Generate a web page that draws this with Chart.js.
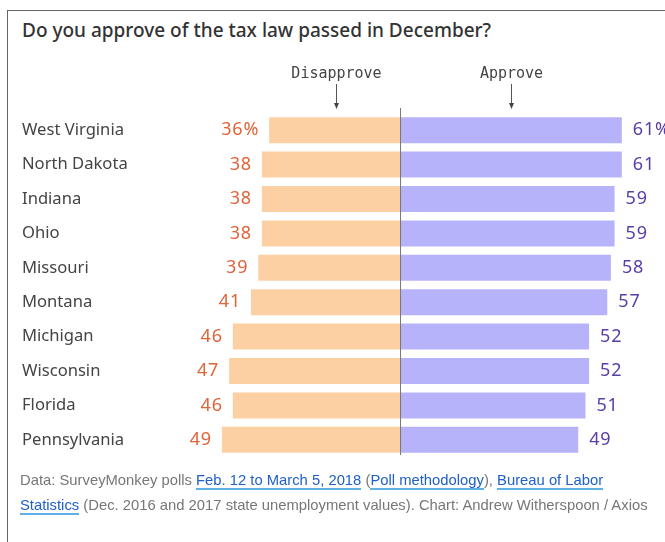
<!DOCTYPE html>
<html>
<head>
<meta charset="utf-8">
<script src="https://cdn.jsdelivr.net/npm/chart.js@4.4.1/dist/chart.umd.min.js"></script>
<style>
  html, body { margin: 0; padding: 0; background: #fff; }
  #wrap { position: relative; width: 665px; height: 542px; overflow: hidden; }
  #frame { position: absolute; left: 7px; top: 10px; width: 700px; height: 600px;
           border-left: 1px solid #666; border-top: 1px solid #666; }
  #title { position: absolute; left: 22px; top: 17px; font-family: "Noto Sans", sans-serif;
           font-size: 19px; font-weight: 500; color: #333; white-space: nowrap; }
  #note { position: absolute; left: 20px; top: 468px; font-family: "Liberation Sans", Arial, sans-serif;
          font-size: 14.8px; line-height: 25px; color: #777; white-space: nowrap; }
  #note a { color: #2060c8; text-decoration: none; border-bottom: 2px solid #5fb0e4; }
  canvas { position: absolute; left: 0; top: 0; }
</style>
</head>
<body>
<div id="wrap">
  <div id="frame"></div>
  <div id="title">Do you approve of the tax law passed in December?</div>
  <canvas id="myChart" width="665" height="542"></canvas>
  <div id="note">Data: SurveyMonkey polls <a>Feb. 12 to March 5, 2018</a> (<a>Poll methodology</a>), <a>Bureau of Labor</a><br><a>Statistics</a> (Dec. 2016 and 2017 state unemployment values). Chart: Andrew Witherspoon / Axios</div>
</div>
<script>
let states = ['West Virginia', 'North Dakota', 'Indiana', 'Ohio', 'Missouri',
              'Montana', 'Michigan', 'Wisconsin', 'Florida', 'Pennsylvania'];
let disapprove = [36, 38, 38, 38, 39, 41, 46, 47, 46, 49];
let approve = [61, 61, 59, 59, 58, 57, 52, 52, 51, 49];

let colors = {
    disapproveBar: '#fdd0a4',
    approveBar: '#b7b3fb',
    disapproveText: '#e0643a',
    approveText: '#5a3ea8',
};

// bars and labels drawn on top of the library's scales
const overlay = {
    id: 'overlay',
    afterDatasetsDraw(chart) {
        const ctx = chart.ctx;
        const x = chart.scales.x;
        const y = chart.scales.y;
        const zero = x.getPixelForValue(0);

        ctx.save();
        // center line
        ctx.strokeStyle = '#777';
        ctx.lineWidth = 1;
        ctx.beginPath();
        ctx.moveTo(zero + 0.5, y.top - 5);
        ctx.lineTo(zero + 0.5, y.bottom - 2);
        ctx.stroke();

        // state names
        ctx.font = '16.6px "Noto Sans"';
        ctx.fillStyle = '#444';
        ctx.textBaseline = 'middle';
        ctx.textAlign = 'left';
        states.forEach((s, i) => {
            ctx.fillText(s, 22, y.getPixelForValue(i));
        });

        // values
        const left = chart.getDatasetMeta(0).data;
        const right = chart.getDatasetMeta(1).data;
        ctx.font = '18px "Noto Sans"';
        ctx.letterSpacing = '0.8px';
        left.forEach((bar, i) => {
            ctx.fillStyle = colors.disapproveText;
            ctx.textAlign = 'right';
            ctx.fillText(disapprove[i] + (i === 0 ? '%' : ''), bar.x - 10, bar.y);
        });
        right.forEach((bar, i) => {
            ctx.fillStyle = colors.approveText;
            ctx.textAlign = 'left';
            ctx.fillText(approve[i] + (i === 0 ? '%' : ''), bar.x + 11, bar.y);
        });
        ctx.letterSpacing = '0px';

        // column headers with arrows
        ctx.font = '15px "DejaVu Sans Mono"';
        ctx.fillStyle = '#444';
        ctx.strokeStyle = '#555';
        ctx.textAlign = 'center';
        [['Disapprove', -17.6], ['Approve', 30.6]].forEach(([t, v]) => {
            const px = Math.round(x.getPixelForValue(v)) + 0.5;
            ctx.fillText(t, px, 74);
            ctx.beginPath();
            ctx.moveTo(px, 84);
            ctx.lineTo(px, 107);
            ctx.stroke();
            ctx.beginPath();
            ctx.moveTo(px - 2.5, 103);
            ctx.lineTo(px + 2.5, 103);
            ctx.lineTo(px, 109);
            ctx.closePath();
            ctx.fill();
        });
        ctx.restore();
    }
};

new Chart(document.getElementById('myChart'), {
    type: 'bar',
    data: {
        labels: states,
        datasets: [{
            data: disapprove.map(v => -v),
            backgroundColor: colors.disapproveBar,
            borderWidth: 0,
        }, {
            data: approve,
            backgroundColor: colors.approveBar,
            borderWidth: 0,
        }]
    },
    options: {
        indexAxis: 'y',
        responsive: false,
        animation: false,
        layout: {
            padding: { left: 171, right: 25, top: 113, bottom: 85 }
        },
        datasets: {
            bar: { categoryPercentage: 1, barPercentage: 0.755 }
        },
        scales: {
            x: { stacked: true, min: -63, max: 66, display: false },
            y: { stacked: true, display: false }
        },
        plugins: {
            legend: { display: false },
            tooltip: { enabled: false }
        }
    },
    plugins: [overlay]
});
</script>
</body>
</html>
